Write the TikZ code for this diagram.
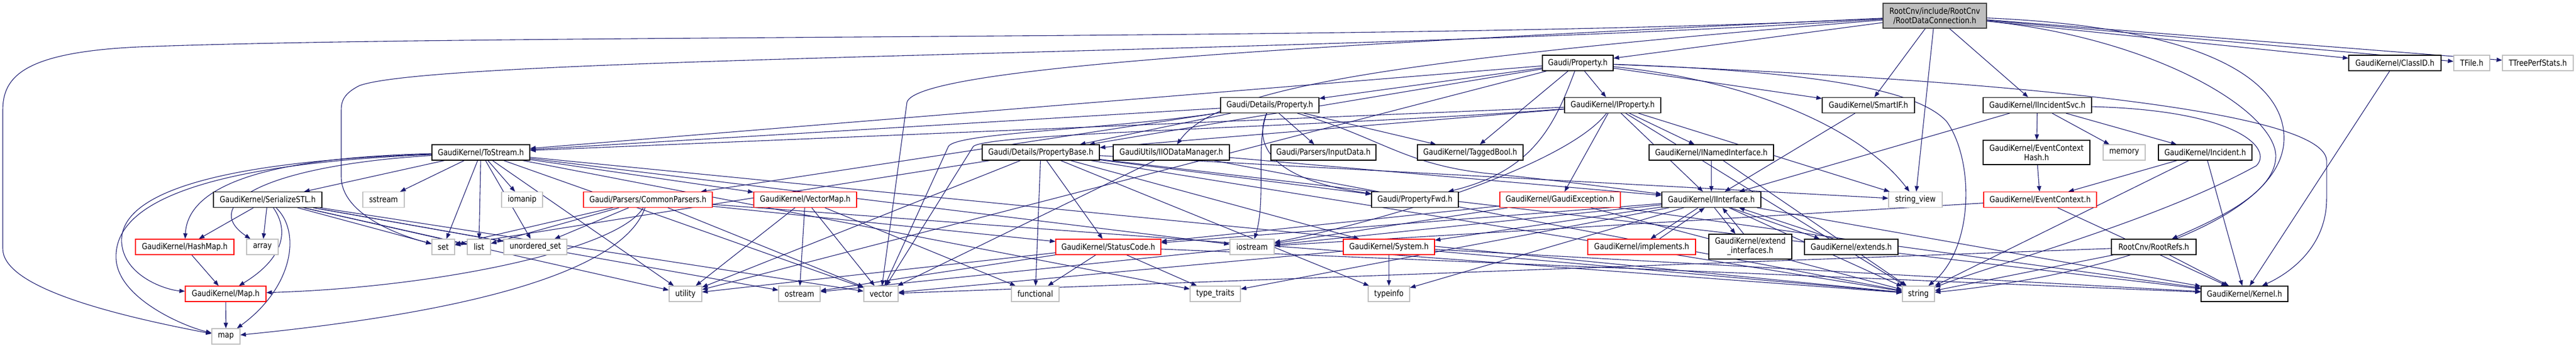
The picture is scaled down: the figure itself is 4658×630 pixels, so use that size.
\documentclass[tikz,border=0pt]{standalone}
\usepackage{fontspec}
\setmainfont{DejaVu Sans}[FakeStretch=0.85]
\usetikzlibrary{arrows.meta}
\definecolor{edgec}{HTML}{191970}
\definecolor{gbord}{HTML}{BFBFBF}
\definecolor{topfill}{HTML}{BFBFBF}
\definecolor{topbord}{HTML}{404040}
\pgfdeclarelayer{bg}
\pgfsetlayers{bg,main}
\begin{document}
\begin{tikzpicture}[x=0.5pt,y=-0.5pt,
  font=\fontsize{7.6}{8.5}\selectfont,
  box/.style={draw, fill=white, inner sep=0pt, minimum height=14pt, align=center, line width=0.6pt},
  nb/.style={box,draw=black},
  ng/.style={box,draw=gbord},
  nr/.style={box,draw=red},
  ntop/.style={box,draw=topbord,fill=topfill,minimum height=22.5pt},
  e/.style={draw=edgec, line width=0.55pt, -{Triangle[length=5pt,width=3.8pt]}}]
\useasboundingbox (0,0) rectangle (4658,630);
% row 0
\node[ntop,minimum width=93.5pt] (R) at (3498.5,28.5) {RootCnv/include/RootCnv\\/RootDataConnection.h};
% row 1
\node[nb,minimum width=64pt] (Prop) at (2853,114) {Gaudi/Property.h};
\node[nb,minimum width=83.5pt] (ClassID) at (4330.5,114) {GaudiKernel/ClassID.h};
\node[ng,minimum width=32.5pt] (TFile) at (4469.5,114) {TFile.h};
\node[ng,minimum width=64pt] (TTree) at (4589,114) {TTreePerfStats.h};
% row 2
\node[nb,minimum width=89pt] (DetProp) at (2296,190.5) {Gaudi/Details/Property.h};
\node[nb,minimum width=87pt] (IProp) at (2916,190.5) {GaudiKernel/IProperty.h};
\node[nb,minimum width=83.5pt] (SmartIF) at (3378.5,190.5) {GaudiKernel/SmartIF.h};
\node[nb,minimum width=98pt] (IIncSvc) at (3684,190.5) {GaudiKernel/IIncidentSvc.h};
% row 3
\node[nb,minimum width=88.5pt] (ToStream) at (869.5,276) {GaudiKernel/ToStream.h};
\node[nb,minimum width=106pt] (PropBase) at (1882,276) {Gaudi/Details/PropertyBase.h};
\node[nb,minimum width=105pt] (IODM) at (2118,276) {GaudiUtils/IIODataManager.h};
\node[nb,minimum width=95pt] (InputData) at (2393,276) {Gaudi/Parsers/InputData.h};
\node[nb,minimum width=95.5pt] (TaggedBool) at (2658.5,276) {GaudiKernel/TaggedBool.h};
\node[nb,minimum width=112.5pt] (INamed) at (3094.5,276) {GaudiKernel/INamedInterface.h};
\node[nb,minimum width=96.5pt,minimum height=22pt] (ECHash) at (3682.5,276) {GaudiKernel/EventContext\\Hash.h};
\node[ng,minimum width=38pt] (memory) at (3841,276) {memory};
\node[nb,minimum width=84.5pt] (Incident) at (3987.5,276) {GaudiKernel/Incident.h};
% row 4
\node[nb,minimum width=98pt] (SerSTL) at (484,361.5) {GaudiKernel/SerializeSTL.h};
\node[ng,minimum width=37.5pt] (sstream) at (693.5,361.5) {sstream};
\node[ng,minimum width=37pt] (iomanip) at (944,361.5) {iomanip};
\node[nr,minimum width=116.5pt] (CommonP) at (1171.5,361.5) {Gaudi/Parsers/CommonParsers.h};
\node[nr,minimum width=93pt] (VecMap) at (1456,361.5) {GaudiKernel/VectorMap.h};
\node[nb,minimum width=78.5pt] (PropFwd) at (2558.5,361.5) {Gaudi/PropertyFwd.h};
\node[nr,minimum width=109pt] (GExc) at (2821,361.5) {GaudiKernel/GaudiException.h};
\node[nb,minimum width=89.5pt] (IIface) at (3094.5,361.5) {GaudiKernel/IInterface.h};
\node[ng,minimum width=48.5pt] (strview) at (3463.5,361.5) {string\_view};
\node[nr,minimum width=102pt] (EvCtx) at (3689,361.5) {GaudiKernel/EventContext.h};
% row 5
\node[nr,minimum width=89pt] (HashMap) at (334,447) {GaudiKernel/HashMap.h};
\node[ng,minimum width=28.5pt] (array) at (474.5,447) {array};
\node[ng,minimum width=20.5pt] (set) at (801.5,447) {set};
\node[ng,minimum width=21pt] (list) at (866,447) {list};
\node[ng,minimum width=57pt] (uset) at (968,447) {unordered\_set};
\node[nr,minimum width=95pt] (StatusCode) at (2004,447) {GaudiKernel/StatusCode.h};
\node[ng,minimum width=40pt] (iostream) at (2264,447) {iostream};
\node[nr,minimum width=82.5pt] (System) at (2511.5,447) {GaudiKernel/System.h};
\node[nr,minimum width=97.5pt] (implements) at (2968.5,447) {GaudiKernel/implements.h};
\node[nb,minimum width=75pt,minimum height=22.5pt] (extIf) at (3165,446.5) {GaudiKernel/extend\\\_interfaces.h};
\node[nb,minimum width=84.5pt] (extends) at (3347.5,447) {GaudiKernel/extends.h};
\node[nb,minimum width=76.5pt] (RootRefs) at (3894.5,447) {RootCnv/RootRefs.h};
% row 6
\node[nr,minimum width=73pt] (MapH) at (408,532) {GaudiKernel/Map.h};
\node[ng,minimum width=29.5pt] (utility) at (1239.5,532) {utility};
\node[ng,minimum width=37.5pt] (ostream) at (1445.5,532) {ostream};
\node[ng,minimum width=31pt] (vector) at (1593,532) {vector};
\node[ng,minimum width=43pt] (functional) at (1872,532) {functional};
\node[ng,minimum width=45.5pt] (typetraits) at (2197.5,532) {type\_traits};
\node[ng,minimum width=37.5pt] (typeinfo) at (2511.5,532) {typeinfo};
\node[ng,minimum width=29pt] (string) at (3469,532) {string};
\node[nb,minimum width=78.5pt] (Kernel) at (4058.5,532) {GaudiKernel/Kernel.h};
% row 7
\node[ng,minimum width=25.5pt] (map) at (408.5,609) {map};

\begin{pgfonlayer}{bg}
\fill[white] (0,0) rectangle (4658,630);
\foreach \s/\t in {R/Prop, R/ClassID, R/TFile, R/TTree, R/SmartIF, R/IIncSvc, R/strview,
  Prop/DetProp, Prop/PropBase, Prop/ToStream, Prop/TaggedBool, Prop/IProp, Prop/SmartIF, Prop/utility,
  DetProp/InputData, DetProp/TaggedBool, DetProp/ToStream, DetProp/CommonP, DetProp/PropBase,
  PropBase/functional, PropBase/StatusCode, PropBase/PropFwd, PropBase/Kernel, PropBase/string,
  PropBase/strview, PropBase/typeinfo, PropBase/System, PropBase/set, PropBase/utility,
  IODM/vector, IODM/IIface, IODM/string,
  IProp/ToStream, IProp/PropBase, IProp/GExc, IProp/IIface, IProp/INamed, IProp/strview, IProp/string,
  INamed/IIface, INamed/string, SmartIF/IIface,
  IIncSvc/IIface, IIncSvc/ECHash, IIncSvc/memory, IIncSvc/Incident,
  ECHash/EvCtx, EvCtx/iostream, EvCtx/Kernel,
  Incident/EvCtx, Incident/string, Incident/Kernel,
  RootRefs/Kernel, RootRefs/string, RootRefs/vector, ClassID/Kernel,
  SerSTL/HashMap, SerSTL/array, SerSTL/set, SerSTL/list, SerSTL/uset, SerSTL/ostream,
  SerSTL/utility, SerSTL/vector,
  ToStream/SerSTL, ToStream/sstream, ToStream/iomanip, ToStream/set, ToStream/list, ToStream/uset,
  ToStream/VecMap, ToStream/iostream, ToStream/vector, ToStream/string, ToStream/typetraits, ToStream/utility,
  HashMap/MapH, MapH/map,
  CommonP/set, CommonP/list, CommonP/uset, CommonP/StatusCode, CommonP/string, CommonP/vector,
  VecMap/utility, VecMap/ostream, VecMap/functional, VecMap/vector,
  StatusCode/utility, StatusCode/ostream, StatusCode/functional, StatusCode/typetraits, StatusCode/Kernel,
  GExc/iostream, GExc/StatusCode, GExc/Kernel, GExc/string,
  IIface/Kernel, IIface/StatusCode, IIface/System, IIface/typeinfo, IIface/typetraits, IIface/ostream, IIface/string,
  System/typeinfo, System/string, System/Kernel, System/vector}
  {\draw[e] (\s) -- (\t);}
% cycles around IInterface
\draw[e] ([xshift=2.75pt]IIface.south) -- ([xshift=-13.5pt]extIf.north);
\draw[e] ([xshift=-6pt]extIf.north) -- ([xshift=10pt]IIface.south);
\draw[e] ([xshift=-12pt]IIface.south) -- ([xshift=8pt]implements.north);
\draw[e] ([xshift=16pt]implements.north) -- ([xshift=-6pt]IIface.south);
\draw[e] ([xshift=17.5pt]IIface.south) -- ([xshift=-28.5pt]extends.north);
\draw[e] ([xshift=-16pt]extends.north) -- ([xshift=25pt]IIface.south);
% curved edges
\draw[e] (R) .. controls (2600,75) and (900,60) .. (250,85) .. controls (40,95) and (5,140) .. (5,200) -- (5,450) .. controls (5,510) and (150,560) .. (map);
\draw[e] (R) .. controls (2400,100) and (800,100) .. (650,155) .. controls (620,170) and (617,185) .. (617,200) -- (617,320) .. controls (617,380) and (700,420) .. (set);
\draw[e] (R) .. controls (2400,80) and (1660,120) .. (1640,185) -- (vector);
\draw[e] (R) .. controls (2500,110) and (2200,160) .. (IODM);
\draw[e] (R) .. controls (4000,50) and (4130,150) .. (4130,250) .. controls (4130,400) and (3800,500) .. (string);
\draw[e] (R) .. controls (3900,70) and (4110,200) .. (4115,280) .. controls (4118,350) and (4000,400) .. (RootRefs);
\draw[e] (Prop) .. controls (3500,140) and (4200,190) .. (4207,290) -- (4207,360) .. controls (4207,440) and (4150,490) .. (Kernel);
\draw[e] (Prop) .. controls (3300,130) and (3470,165) .. (3520,220) .. controls (3570,290) and (3570,450) .. (string);
\draw[e] (Prop) .. controls (3200,150) and (3380,250) .. (strview);
\draw[e] (Prop) .. controls (2810,230) and (2770,310) .. (PropFwd);
\draw[e] (IIncSvc) .. controls (4050,200) and (4110,270) .. (4080,300) .. controls (3900,400) and (3600,480) .. (string);
\draw[e] (DetProp) .. controls (2270,260) and (2290,360) .. (iostream);
\draw[e] (DetProp) .. controls (2260,280) and (2330,330) .. (PropFwd);
\draw[e] (DetProp) .. controls (2000,235) and (1730,240) .. (1715,265) -- (vector);
\draw[e] (DetProp) .. controls (2500,250) and (2540,300) .. (2700,315) .. controls (2850,330) and (2950,345) .. (IIface);
\draw[e] (IProp) .. controls (2400,230) and (1790,240) .. (1760,265) -- (vector);
\draw[e] (IProp) .. controls (2840,290) and (2550,390) .. (iostream);
\draw[e] (ToStream) .. controls (500,285) and (340,330) .. (HashMap);
\draw[e] (ToStream) .. controls (480,300) and (360,370) .. (array);
\draw[e] (ToStream) .. controls (320,295) and (215,370) .. (220,440) .. controls (225,500) and (300,525) .. (MapH);
\draw[e] (ToStream) .. controls (300,300) and (205,390) .. (210,470) .. controls (215,540) and (330,590) .. (map);
\draw[e] (CommonP) .. controls (1120,450) and (800,520) .. (MapH);
\draw[e] (CommonP) .. controls (1130,480) and (900,560) .. (map);
\draw[e] (SerSTL) .. controls (525,420) and (510,470) .. (MapH);
\draw[e] (SerSTL) .. controls (545,420) and (530,520) .. (map);
\end{pgfonlayer}
\end{tikzpicture}
\end{document}
